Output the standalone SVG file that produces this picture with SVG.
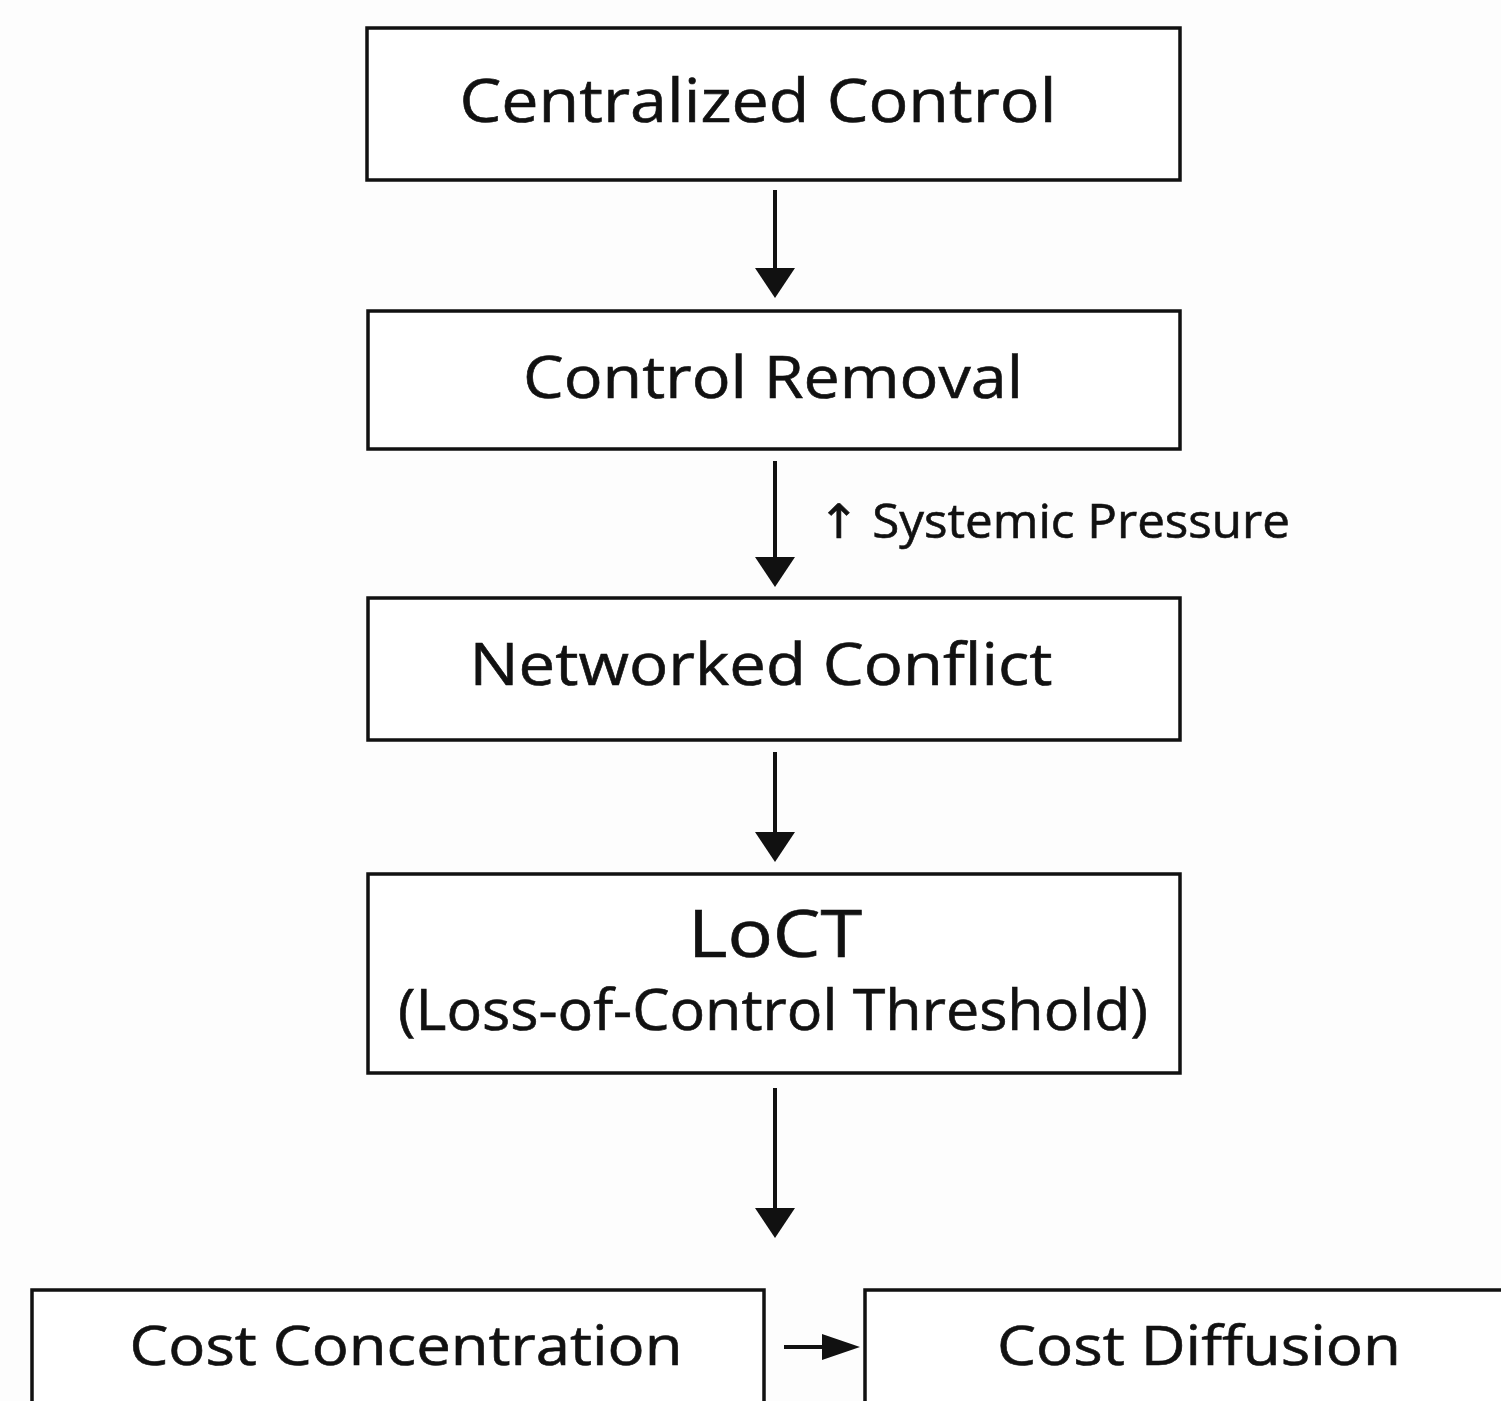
<svg xmlns="http://www.w3.org/2000/svg" width="1501" height="1401" viewBox="0 0 1501 1401">
<style>
.box{fill:#fff;stroke:#111;stroke-width:3.5}
.t{font-family:"Open Sans","Noto Sans","DejaVu Sans",sans-serif;fill:#111;stroke:#111;stroke-width:0.6;text-anchor:middle}
.c{stroke:#111;stroke-width:4;fill:none}
</style>
<rect width="1501" height="1401" fill="#fdfdfd"/>
<g id="n1"><rect class="box" x="367" y="28" width="813" height="152"/><text class="t" x="758" y="122" font-size="61" textLength="597" lengthAdjust="spacingAndGlyphs">Centralized Control</text></g>
<g id="n2"><rect class="box" x="368" y="311" width="812" height="138"/><text class="t" x="773" y="398" font-size="58" textLength="500" lengthAdjust="spacingAndGlyphs">Control Removal</text></g>
<g id="n3"><rect class="box" x="368" y="598" width="812" height="142"/><text class="t" x="761" y="685" font-size="59" textLength="583" lengthAdjust="spacingAndGlyphs">Networked Conflict</text></g>
<g id="n4"><rect class="box" x="368" y="874" width="812" height="199"/><text class="t" x="775" y="957" font-size="65" textLength="174" lengthAdjust="spacingAndGlyphs">LoCT</text><text class="t" x="773" y="1030" font-size="56" textLength="750" lengthAdjust="spacingAndGlyphs">(Loss-of-Control Threshold)</text></g>
<g id="n5"><rect class="box" x="32" y="1290" width="732" height="130"/><text class="t" x="406" y="1365" font-size="54" textLength="553" lengthAdjust="spacingAndGlyphs">Cost Concentration</text></g>
<g id="n6"><rect class="box" x="865" y="1290" width="660" height="130"/><text class="t" x="1199" y="1365" font-size="54" textLength="404" lengthAdjust="spacingAndGlyphs">Cost Diffusion</text></g>
<g id="connectors">
<line class="c" x1="775" y1="190" x2="775" y2="270"/><path d="M755,268 L795,268 L775,298 Z" fill="#111"/>
<line class="c" x1="775" y1="461" x2="775" y2="560"/><path d="M755,557 L795,557 L775,587 Z" fill="#111"/>
<line class="c" x1="775" y1="752" x2="775" y2="834"/><path d="M755,832 L795,832 L775,862 Z" fill="#111"/>
<line class="c" x1="775" y1="1088" x2="775" y2="1210"/><path d="M755,1208 L795,1208 L775,1238 Z" fill="#111"/>
<line class="c" x1="784" y1="1347" x2="826" y2="1347"/><path d="M822,1334 L860,1347 L822,1360 Z" fill="#111"/>
<text class="t" x="1054" y="538" font-size="47" textLength="472" lengthAdjust="spacingAndGlyphs">↑ Systemic Pressure</text>
</g>
</svg>
